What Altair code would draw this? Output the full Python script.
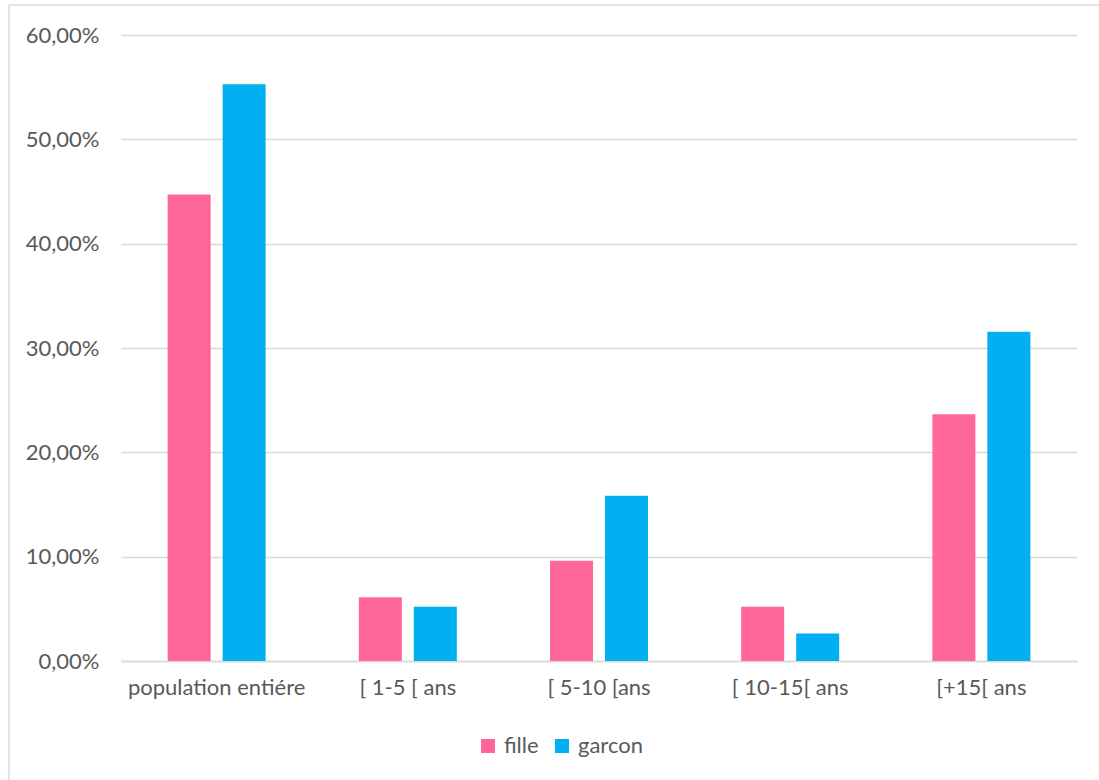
import altair as alt
import pandas as pd

categories = ["population entiére", "[ 1-5 [ ans", "[ 5-10 [ans", "[ 10-15[ ans", "[+15[ ans"]
fille = [0.4472, 0.0611, 0.0962, 0.0519, 0.2366]
garcon = [0.5528, 0.0519, 0.1584, 0.0263, 0.3156]
series = ["fille", "garcon"]
colors = ["#FF6699", "#00B0F0"]
y_ticks = [0.0, 0.1, 0.2, 0.3, 0.4, 0.5, 0.6]

rows = []
for c, f, g in zip(categories, fille, garcon):
    rows.append({"categorie": c, "sexe": "fille", "part": f})
    rows.append({"categorie": c, "sexe": "garcon", "part": g})
df = pd.DataFrame(rows)

FONT = "Lato"
GREY = "#595959"
SIZE = 22

bars = alt.Chart(df).mark_bar().encode(
    x=alt.X(
        "categorie:N",
        sort=categories,
        title=None,
        scale=alt.Scale(paddingInner=0.4875, paddingOuter=0.244),
        axis=alt.Axis(
            labelAngle=0,
            ticks=False,
            domain=True,
            domainColor="#D9D9D9",
            domainWidth=1.5,
            labelPadding=16,
            labelFont=FONT,
            labelFontSize=SIZE,
            labelColor=GREY,
            grid=False,
        ),
    ),
    xOffset=alt.XOffset("sexe:N", sort=series, scale=alt.Scale(paddingInner=0.218, paddingOuter=0)),
    y=alt.Y(
        "part:Q",
        title=None,
        scale=alt.Scale(domain=[0, 0.6], nice=False),
        axis=alt.Axis(
            values=y_ticks,
            labelExpr="replace(format(datum.value, '.2%'), '.', ',')",
            ticks=False,
            domain=False,
            labelPadding=22,
            labelFont=FONT,
            labelFontSize=SIZE,
            labelColor=GREY,
            gridColor="#D9D9D9",
            gridWidth=1.5,
        ),
    ),
    color=alt.Color(
        "sexe:N",
        sort=series,
        scale=alt.Scale(domain=series, range=colors),
        legend=alt.Legend(
            title=None,
            orient="none",
            direction="horizontal",
            legendX=356,
            legendY=700,
            symbolType="square",
            symbolSize=196,
            symbolStrokeWidth=0,
            labelFont=FONT,
            labelFontSize=SIZE,
            labelColor=GREY,
            labelOffset=5,
            columnPadding=12,
        ),
    ),
)

# light frame along the top and left edges
frame_top = alt.Chart(pd.DataFrame({"k": [0]})).mark_rule(color="#D9D9D9", strokeWidth=1.5).encode(
    x=alt.value(-112), x2=alt.value(1000), y=alt.value(-30)
)
frame_left = alt.Chart(pd.DataFrame({"k": [0]})).mark_rule(color="#D9D9D9", strokeWidth=1.5).encode(
    x=alt.value(-112), y=alt.value(-30), y2=alt.value(760)
)

chart = alt.layer(bars, frame_top, frame_left).properties(
    width=956,
    height=626,
    autosize=alt.AutoSizeParams(type="none"),
    padding={"left": 121, "top": 35, "right": 22, "bottom": 119},
    background="white",
).configure_view(stroke=None)

chart.save("out.html", embed_options={"renderer": "svg", "actions": False})
